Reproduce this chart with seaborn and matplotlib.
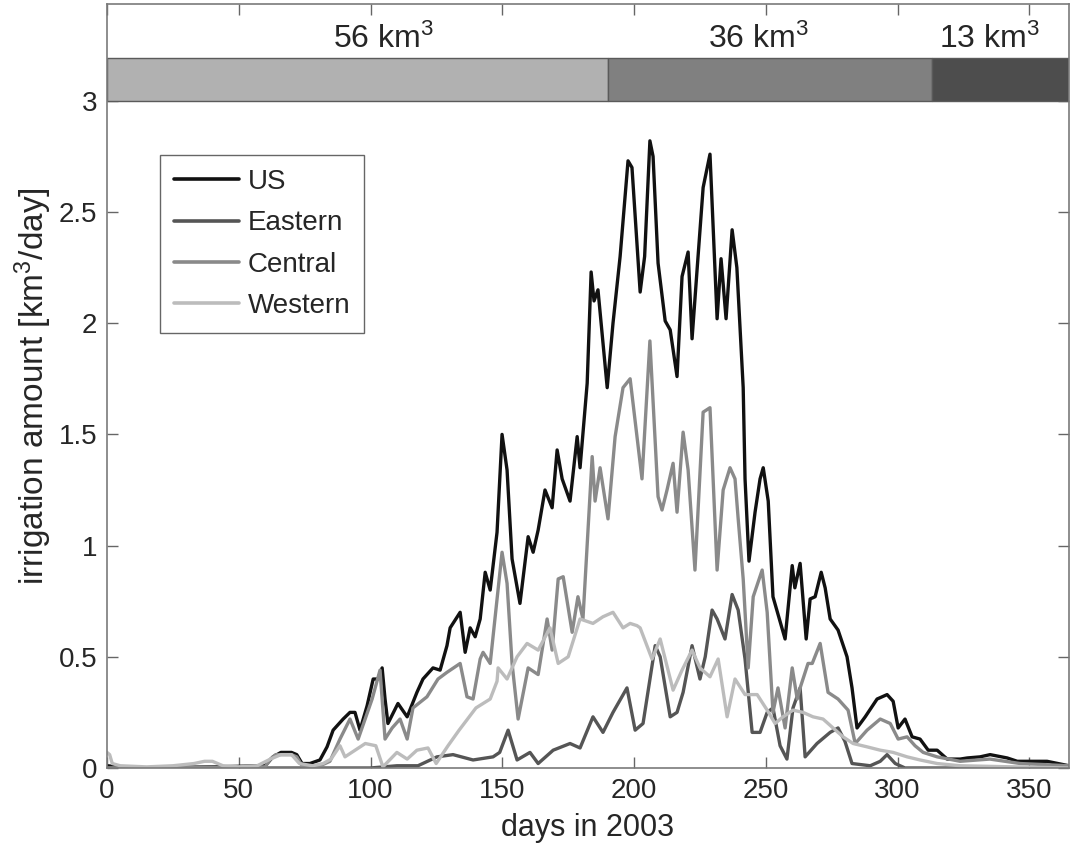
import numpy as np
import pandas as pd
import seaborn as sns
import matplotlib
matplotlib.use("Agg")
import matplotlib.pyplot as plt
from matplotlib.ticker import FormatStrFormatter

# daily irrigation (day, km3/day)
us_day = [0, 10, 40, 60, 63, 66, 70, 72, 74, 77, 80.8, 83.5, 85.8, 89.6, 92.2, 94.1, 96, 98.7, 101, 102.8,
          104.4, 105.5, 106.6, 110.4, 113.9, 117.6, 119.9, 123.7, 126.4, 129, 130.2, 134, 135.9, 137.8,
          139.7, 141.6, 143.5, 145.4, 148, 149.9, 151.8, 153.7, 156.7, 159.8, 161.7, 163.6, 166.2, 168.9,
          170.8, 172.7, 175.7, 178.4, 179.5, 182.2, 183.7, 184.8, 186.3, 189.8, 192, 194.7, 197.7, 199.2,
          202.3, 204, 206, 207.2, 209.1, 211.8, 213.7, 216.3, 218.2, 220.5, 222, 223.9, 226.2, 228.8,
          231.5, 233, 234.9, 237.2, 239, 241.4, 242.1, 243.6, 245.9, 247.8, 249, 250.9, 252.7, 257.3,
          260, 261, 263, 265.3, 266.8, 268.7, 271, 272.5, 274.4, 277.4, 280.8, 282.7, 284.6, 287.7,
          292.2, 296, 298.3, 300.2, 302.8, 305.5, 308.5, 311.6, 315, 318.8, 323.7, 326.4, 331.3, 335.1,
          341.6, 345.4, 356.7, 365]
us_val = [0.01, 0.0, 0.005, 0.01, 0.05, 0.07, 0.07, 0.06, 0.02, 0.02, 0.036, 0.095, 0.17, 0.22, 0.25, 0.25,
          0.17, 0.28, 0.4, 0.4, 0.45, 0.31, 0.2, 0.29, 0.23, 0.34, 0.4, 0.45, 0.44, 0.55, 0.63, 0.7, 0.52,
          0.63, 0.59, 0.67, 0.88, 0.8, 1.06, 1.5, 1.34, 0.94, 0.74, 1.04, 0.97, 1.07, 1.25, 1.17, 1.43, 1.3,
          1.2, 1.49, 1.35, 1.73, 2.23, 2.1, 2.15, 1.71, 2.0, 2.3, 2.73, 2.7, 2.14, 2.3, 2.82, 2.75, 2.27,
          2.01, 1.97, 1.76, 2.21, 2.32, 1.93, 2.24, 2.61, 2.76, 2.02, 2.29, 2.02, 2.42, 2.25, 1.71, 1.3,
          0.93, 1.15, 1.3, 1.35, 1.2, 0.77, 0.58, 0.91, 0.81, 0.92, 0.58, 0.76, 0.77, 0.88, 0.81, 0.67,
          0.62, 0.5, 0.36, 0.18, 0.23, 0.31, 0.33, 0.3, 0.18, 0.22, 0.14, 0.13, 0.08, 0.08, 0.04, 0.04,
          0.045, 0.05, 0.06, 0.045, 0.03, 0.03, 0.01]

east_day = [0, 100, 110, 118, 125.2, 131.3, 138.9, 146.5, 149, 152.2, 155.6, 160.5, 163.6, 169.3, 175.7,
            179.5, 184.4, 188.2, 192, 197.3, 200.4, 203.4, 208, 209.9, 213.7, 216.3, 218.6, 222, 225, 227,
            229.6, 231.5, 234.5, 237.2, 239.5, 242.1, 244.8, 247.8, 250.5, 252.7, 255.4, 258, 260.3, 263,
            264.9, 269.4, 274.4, 277.4, 280, 282.7, 289.6, 293.4, 296, 299.1, 302.8, 365]
east_val = [0.0, 0.0, 0.01, 0.01, 0.05, 0.06, 0.036, 0.05, 0.07, 0.17, 0.036, 0.07, 0.02, 0.08, 0.11, 0.09,
            0.23, 0.16, 0.25, 0.36, 0.17, 0.2, 0.55, 0.5, 0.23, 0.25, 0.34, 0.55, 0.4, 0.5, 0.71, 0.67, 0.58,
            0.78, 0.71, 0.49, 0.16, 0.16, 0.25, 0.27, 0.1, 0.04, 0.27, 0.36, 0.05, 0.11, 0.16, 0.18, 0.12,
            0.02, 0.01, 0.03, 0.06, 0.02, 0.0, 0.0]

cent_day = [0, 60, 62, 64, 70, 72, 74, 80, 84.6, 88.4, 92.2, 95.3, 100.6, 103.6, 105.5, 108.2, 111.2, 113.9,
            116.1, 121.4, 125.6, 129, 134, 136.6, 138.9, 141.6, 142.7, 145.4, 149.9, 151.8, 153.7, 156,
            159.8, 163.6, 167, 168.9, 171.2, 173.1, 176.5, 178.7, 180.6, 184.1, 185.2, 187.1, 190.1, 192.8,
            195.8, 198.5, 203, 206, 209.1, 210.6, 212.5, 214.8, 216.3, 218.6, 220.5, 223.1, 226.2, 228.8,
            231.5, 233.8, 236.4, 238.3, 239.5, 241.4, 243.3, 245.2, 248.6, 250.5, 252.7, 254.6, 257.3, 260,
            261.9, 263, 266, 267.6, 270.6, 273.6, 277.4, 281.2, 283.9, 288.4, 293.4, 297.2, 300.2, 303.6,
            306.6, 309.7, 315, 323.7, 335, 346.5, 365]
cent_val = [0.0, 0.005, 0.04, 0.06, 0.06, 0.05, 0.01, 0.005, 0.03, 0.13, 0.22, 0.13, 0.31, 0.44, 0.13, 0.18,
            0.22, 0.13, 0.27, 0.32, 0.4, 0.43, 0.47, 0.32, 0.31, 0.49, 0.52, 0.47, 0.97, 0.83, 0.47, 0.22,
            0.45, 0.42, 0.67, 0.53, 0.85, 0.86, 0.61, 0.77, 0.67, 1.4, 1.2, 1.35, 1.12, 1.49, 1.71, 1.75,
            1.3, 1.92, 1.22, 1.16, 1.25, 1.37, 1.15, 1.51, 1.34, 0.89, 1.6, 1.62, 0.89, 1.25, 1.35, 1.3,
            1.12, 0.85, 0.45, 0.77, 0.89, 0.7, 0.25, 0.36, 0.18, 0.45, 0.31, 0.36, 0.47, 0.47, 0.56, 0.34,
            0.31, 0.26, 0.11, 0.17, 0.22, 0.2, 0.13, 0.14, 0.1, 0.07, 0.05, 0.03, 0.04, 0.02, 0.01]

west_day = [0, 1, 2, 5, 15, 25, 33, 37, 40, 44, 50, 57, 62, 66, 70, 73, 78, 82, 85, 88.4, 90.3, 98, 102,
            104.7, 110, 113.9, 117.6, 121.8, 124.9, 129.4, 133.6, 140, 145.4, 148, 148.4, 151.8, 155.6,
            159.4, 163.6, 168.1, 171.2, 175, 179.5, 184.4, 188.2, 192, 195.8, 198.5, 201.1, 202.3, 206.8,
            209.9, 214.8, 218.2, 222, 225, 228.8, 231.9, 235.3, 238.3, 242.1, 246.7, 250.5, 253.5, 256.5,
            260.3, 264.1, 267.9, 271.7, 275.5, 279.3, 283.1, 288.4, 293.4, 298.3, 303.6, 308.5, 315, 323.7,
            365]
west_val = [0.07, 0.06, 0.02, 0.01, 0.005, 0.01, 0.02, 0.03, 0.03, 0.01, 0.005, 0.01, 0.04, 0.06, 0.06, 0.02,
            0.01, 0.02, 0.04, 0.1, 0.05, 0.11, 0.1, 0.005, 0.07, 0.04, 0.08, 0.09, 0.02, 0.1, 0.17, 0.27,
            0.31, 0.39, 0.45, 0.4, 0.5, 0.56, 0.53, 0.63, 0.47, 0.5, 0.67, 0.65, 0.68, 0.7, 0.63, 0.65,
            0.64, 0.63, 0.49, 0.58, 0.35, 0.44, 0.53, 0.45, 0.41, 0.49, 0.23, 0.4, 0.33, 0.33, 0.26, 0.2,
            0.23, 0.26, 0.25, 0.23, 0.22, 0.18, 0.14, 0.11, 0.095, 0.08, 0.07, 0.05, 0.036, 0.02, 0.01, 0.0]

regions = ["US", "Eastern", "Central", "Western"]
colors = ["#111111", "#555555", "#8a8a8a", "#bcbcbc"]

# seasonal volumes shown in the top band
period_edges = [0, 190, 313, 365]
period_volumes = [56, 36, 13]
period_colors = ["#b1b1b1", "#808080", "#4d4d4d"]

df = pd.concat([
    pd.DataFrame({"day": us_day, "amount": us_val, "region": "US"}),
    pd.DataFrame({"day": east_day, "amount": east_val, "region": "Eastern"}),
    pd.DataFrame({"day": cent_day, "amount": cent_val, "region": "Central"}),
    pd.DataFrame({"day": west_day, "amount": west_val, "region": "Western"}),
], ignore_index=True)

sns.set_style("ticks")
plt.rcParams["font.family"] = ["Liberation Sans", "DejaVu Sans"]
plt.rcParams["mathtext.fontset"] = "custom"
plt.rcParams["mathtext.rm"] = "Liberation Sans"
plt.rcParams["mathtext.default"] = "regular"

fig = plt.figure(figsize=(10.7, 8.5), dpi=100)
ax = fig.add_axes([0.1, 0.0965, 0.899, 0.899])

sns.lineplot(data=df, x="day", y="amount", hue="region", hue_order=regions,
             palette=colors, estimator=None, sort=True, linewidth=2.4, ax=ax)

# top band with period volumes
starts = np.array(period_edges[:-1])
widths = np.diff(period_edges)
ax.barh([3.0] * 3, widths, left=starts, height=0.193, align="edge",
        color=period_colors, edgecolor="#5a5a5a", linewidth=1)
label_x = [105, 247, 335]
for x, v in zip(label_x, period_volumes):
    ax.text(x, 3.238, f"{v} km$^3$", ha="center", va="baseline", fontsize=23)

ax.set_xlim(0, 365)
ax.set_ylim(0, 3.436)
ax.set_xticks(np.arange(0, 351, 50))
ax.set_yticks(np.arange(0, 3.01, 0.5))
ax.yaxis.set_major_formatter(FormatStrFormatter("%g"))
ax.tick_params(direction="in", top=True, right=True, length=8, width=1,
               color="#666666", labelsize=20, pad=7)
for s in ax.spines.values():
    s.set_color("#7a7a7a")
    s.set_linewidth(1.2)

ax.set_xlabel("days in 2003", fontsize=22, labelpad=7)
ax.set_ylabel("irrigation amount [km$^3$/day]", fontsize=24, labelpad=3)

leg = ax.legend(loc="upper left", bbox_to_anchor=(0.055, 0.802), borderaxespad=0,
                fontsize=20, handlelength=2.35, handletextpad=0.3, labelspacing=0.55,
                borderpad=0.5, frameon=True, fancybox=False, framealpha=1, edgecolor="#666666")
for h in leg.get_lines():
    h.set_linewidth(2.6)

fig.savefig("out.png", dpi=100)
